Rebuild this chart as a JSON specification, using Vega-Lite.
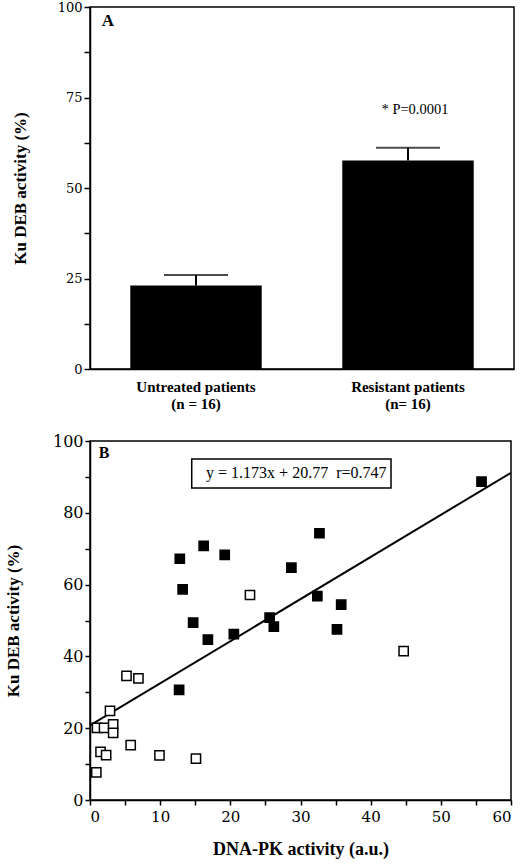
{
  "$schema": "https://vega.github.io/schema/vega-lite/v6.json",
  "background": "white",
  "padding": {"left": 3, "top": 0, "right": 5, "bottom": 0},
  "spacing": 20,
  "config": {
    "view": {"stroke": "black", "strokeWidth": 1.5},
    "axis": {
      "domainColor": "black",
      "domainWidth": 1.5,
      "tickColor": "black",
      "tickWidth": 1.5,
      "grid": false,
      "labelColor": "black",
      "titleColor": "black",
      "labelFont": "DejaVu Serif",
      "titleFont": "Liberation Serif",
      "titleFontWeight": "bold"
    }
  },
  "datasets": {
    "groups": [
      {"group": "Untreated patients|(n = 16)", "mean": 23.1, "upper": 26.0},
      {"group": "Resistant patients|(n= 16)", "mean": 57.6, "upper": 61.1}
    ],
    "notesA": [
      {"group": "Resistant patients|(n= 16)", "y": 71.5, "label": "* P=0.0001"}
    ],
    "panelA": [
      {"group": "Untreated patients|(n = 16)", "y": 96, "label": "A"}
    ],
    "patients": [
      {"dnapk": 55.8, "ku": 88.7, "type": "resistant"},
      {"dnapk": 32.7, "ku": 74.3, "type": "resistant"},
      {"dnapk": 16.2, "ku": 70.8, "type": "resistant"},
      {"dnapk": 19.2, "ku": 68.3, "type": "resistant"},
      {"dnapk": 12.8, "ku": 67.2, "type": "resistant"},
      {"dnapk": 28.7, "ku": 64.7, "type": "resistant"},
      {"dnapk": 13.2, "ku": 58.7, "type": "resistant"},
      {"dnapk": 32.4, "ku": 56.8, "type": "resistant"},
      {"dnapk": 35.8, "ku": 54.4, "type": "resistant"},
      {"dnapk": 25.6, "ku": 50.8, "type": "resistant"},
      {"dnapk": 14.7, "ku": 49.4, "type": "resistant"},
      {"dnapk": 26.2, "ku": 48.3, "type": "resistant"},
      {"dnapk": 35.2, "ku": 47.5, "type": "resistant"},
      {"dnapk": 20.5, "ku": 46.2, "type": "resistant"},
      {"dnapk": 16.8, "ku": 44.7, "type": "resistant"},
      {"dnapk": 12.7, "ku": 30.7, "type": "resistant"},
      {"dnapk": 22.8, "ku": 57.1, "type": "untreated"},
      {"dnapk": 44.7, "ku": 41.5, "type": "untreated"},
      {"dnapk": 5.2, "ku": 34.6, "type": "untreated"},
      {"dnapk": 6.9, "ku": 33.9, "type": "untreated"},
      {"dnapk": 2.85, "ku": 24.8, "type": "untreated"},
      {"dnapk": 1.0, "ku": 20.1, "type": "untreated"},
      {"dnapk": 2.0, "ku": 20.1, "type": "untreated"},
      {"dnapk": 3.3, "ku": 21.1, "type": "untreated"},
      {"dnapk": 3.3, "ku": 18.7, "type": "untreated"},
      {"dnapk": 5.8, "ku": 15.3, "type": "untreated"},
      {"dnapk": 1.5, "ku": 13.4, "type": "untreated"},
      {"dnapk": 2.3, "ku": 12.5, "type": "untreated"},
      {"dnapk": 9.9, "ku": 12.4, "type": "untreated"},
      {"dnapk": 15.1, "ku": 11.5, "type": "untreated"},
      {"dnapk": 0.9, "ku": 7.7, "type": "untreated"}
    ],
    "fit": [
      {"dnapk": 0, "ku": 20.77},
      {"dnapk": 60, "ku": 91.15}
    ],
    "box": [
      {"x1": 14.5, "x2": 42.9, "y1": 86.9, "y2": 95.0}
    ],
    "notesB": [
      {"dnapk": 29.4, "ku": 91.1, "label": "y = 1.173x + 20.77\u00a0 r=0.747", "style": "eq"},
      {"dnapk": 2.0, "ku": 96.6, "label": "B", "style": "panel"}
    ]
  },
  "vconcat": [
    {
      "width": 424,
      "height": 362,
      "encoding": {
        "x": {
          "field": "group",
          "type": "nominal",
          "sort": null,
          "scale": {"paddingInner": 0.38, "paddingOuter": 0.19},
          "axis": {
            "title": null,
            "labelExpr": "split(datum.label, '|')",
            "labelAngle": 0,
            "labelFont": "Liberation Serif",
            "labelFontWeight": "bold",
            "labelFontSize": 15,
            "labelLineHeight": 17,
            "ticks": false,
            "labelPadding": 10
          }
        }
      },
      "layer": [
        {
          "data": {"name": "groups"},
          "mark": {"type": "bar", "color": "black"},
          "encoding": {
            "y": {
              "field": "mean",
              "type": "quantitative",
              "scale": {"domain": [0, 100], "nice": false},
              "axis": {
                "title": "Ku DEB activity (%)",
                "values": [0, 12.5, 25, 37.5, 50, 62.5, 75, 87.5, 100],
                "labelExpr": "datum.value % 25 === 0 ? toString(datum.value) : ''",
                "labelFontSize": 13,
                "labelPadding": 2,
                "tickSize": 6,
                "titleFontSize": 17,
                "titlePadding": 28
              }
            }
          }
        },
        {
          "data": {"name": "groups"},
          "mark": {"type": "rule", "color": "black", "strokeWidth": 2},
          "encoding": {
            "y": {"field": "mean", "type": "quantitative"},
            "y2": {"field": "upper"}
          }
        },
        {
          "data": {"name": "groups"},
          "mark": {"type": "tick", "color": "black", "thickness": 2, "size": 64},
          "encoding": {
            "y": {"field": "upper", "type": "quantitative"}
          }
        },
        {
          "data": {"name": "notesA"},
          "mark": {"type": "text", "font": "Liberation Serif", "fontSize": 14.5, "color": "black", "dx": 7},
          "encoding": {
            "y": {"field": "y", "type": "quantitative"},
            "text": {"field": "label"}
          }
        },
        {
          "data": {"name": "panelA"},
          "mark": {"type": "text", "font": "Liberation Serif", "fontWeight": "bold", "fontSize": 17, "color": "black", "dx": -88},
          "encoding": {
            "y": {"field": "y", "type": "quantitative"},
            "text": {"field": "label"}
          }
        }
      ]
    },
    {
      "width": 421,
      "height": 359,
      "encoding": {
        "x": {
          "field": "dnapk",
          "type": "quantitative",
          "scale": {"domain": [0, 60], "nice": false},
          "axis": {
            "title": "DNA-PK activity (a.u.)",
            "values": [0, 5, 10, 15, 20, 25, 30, 35, 40, 45, 50, 55, 60],
            "labelExpr": "datum.value % 10 === 0 ? toString(datum.value) : ''",
            "labelFontSize": 15,
            "labelPadding": 4,
            "tickSize": 5,
            "titleFontSize": 18,
            "titlePadding": 16
          }
        },
        "y": {
          "field": "ku",
          "type": "quantitative",
          "scale": {"domain": [0, 100], "nice": false},
          "axis": {
            "title": "Ku DEB activity (%)",
            "values": [0, 10, 20, 30, 40, 50, 60, 70, 80, 90, 100],
            "labelExpr": "datum.value % 20 === 0 ? toString(datum.value) : ''",
            "labelFontSize": 16,
            "labelPadding": 2,
            "tickSize": 5,
            "titleFontSize": 17,
            "titlePadding": 30
          }
        }
      },
      "layer": [
        {
          "data": {"name": "fit"},
          "mark": {"type": "line", "color": "black", "strokeWidth": 2},
          "encoding": {}
        },
        {
          "data": {"name": "box"},
          "mark": {"type": "rect", "fill": "white", "stroke": "black", "strokeWidth": 1.5},
          "encoding": {
            "x": {"field": "x1", "type": "quantitative"},
            "x2": {"field": "x2"},
            "y": {"field": "y1", "type": "quantitative"},
            "y2": {"field": "y2"}
          }
        },
        {
          "data": {"name": "patients"},
          "mark": {"type": "point", "shape": "square", "size": 85, "filled": true, "stroke": "black", "strokeWidth": 1.5, "opacity": 1},
          "encoding": {
            "color": {
              "field": "type",
              "type": "nominal",
              "scale": {"domain": ["resistant", "untreated"], "range": ["black", "white"]},
              "legend": null
            }
          }
        },
        {
          "data": {"name": "notesB"},
          "transform": [{"filter": "datum.style === 'eq'"}],
          "mark": {"type": "text", "font": "Liberation Serif", "fontSize": 16, "color": "black"},
          "encoding": {"text": {"field": "label"}}
        },
        {
          "data": {"name": "notesB"},
          "transform": [{"filter": "datum.style === 'panel'"}],
          "mark": {"type": "text", "font": "Liberation Serif", "fontWeight": "bold", "fontSize": 16, "color": "black"},
          "encoding": {"text": {"field": "label"}}
        }
      ]
    }
  ]
}
